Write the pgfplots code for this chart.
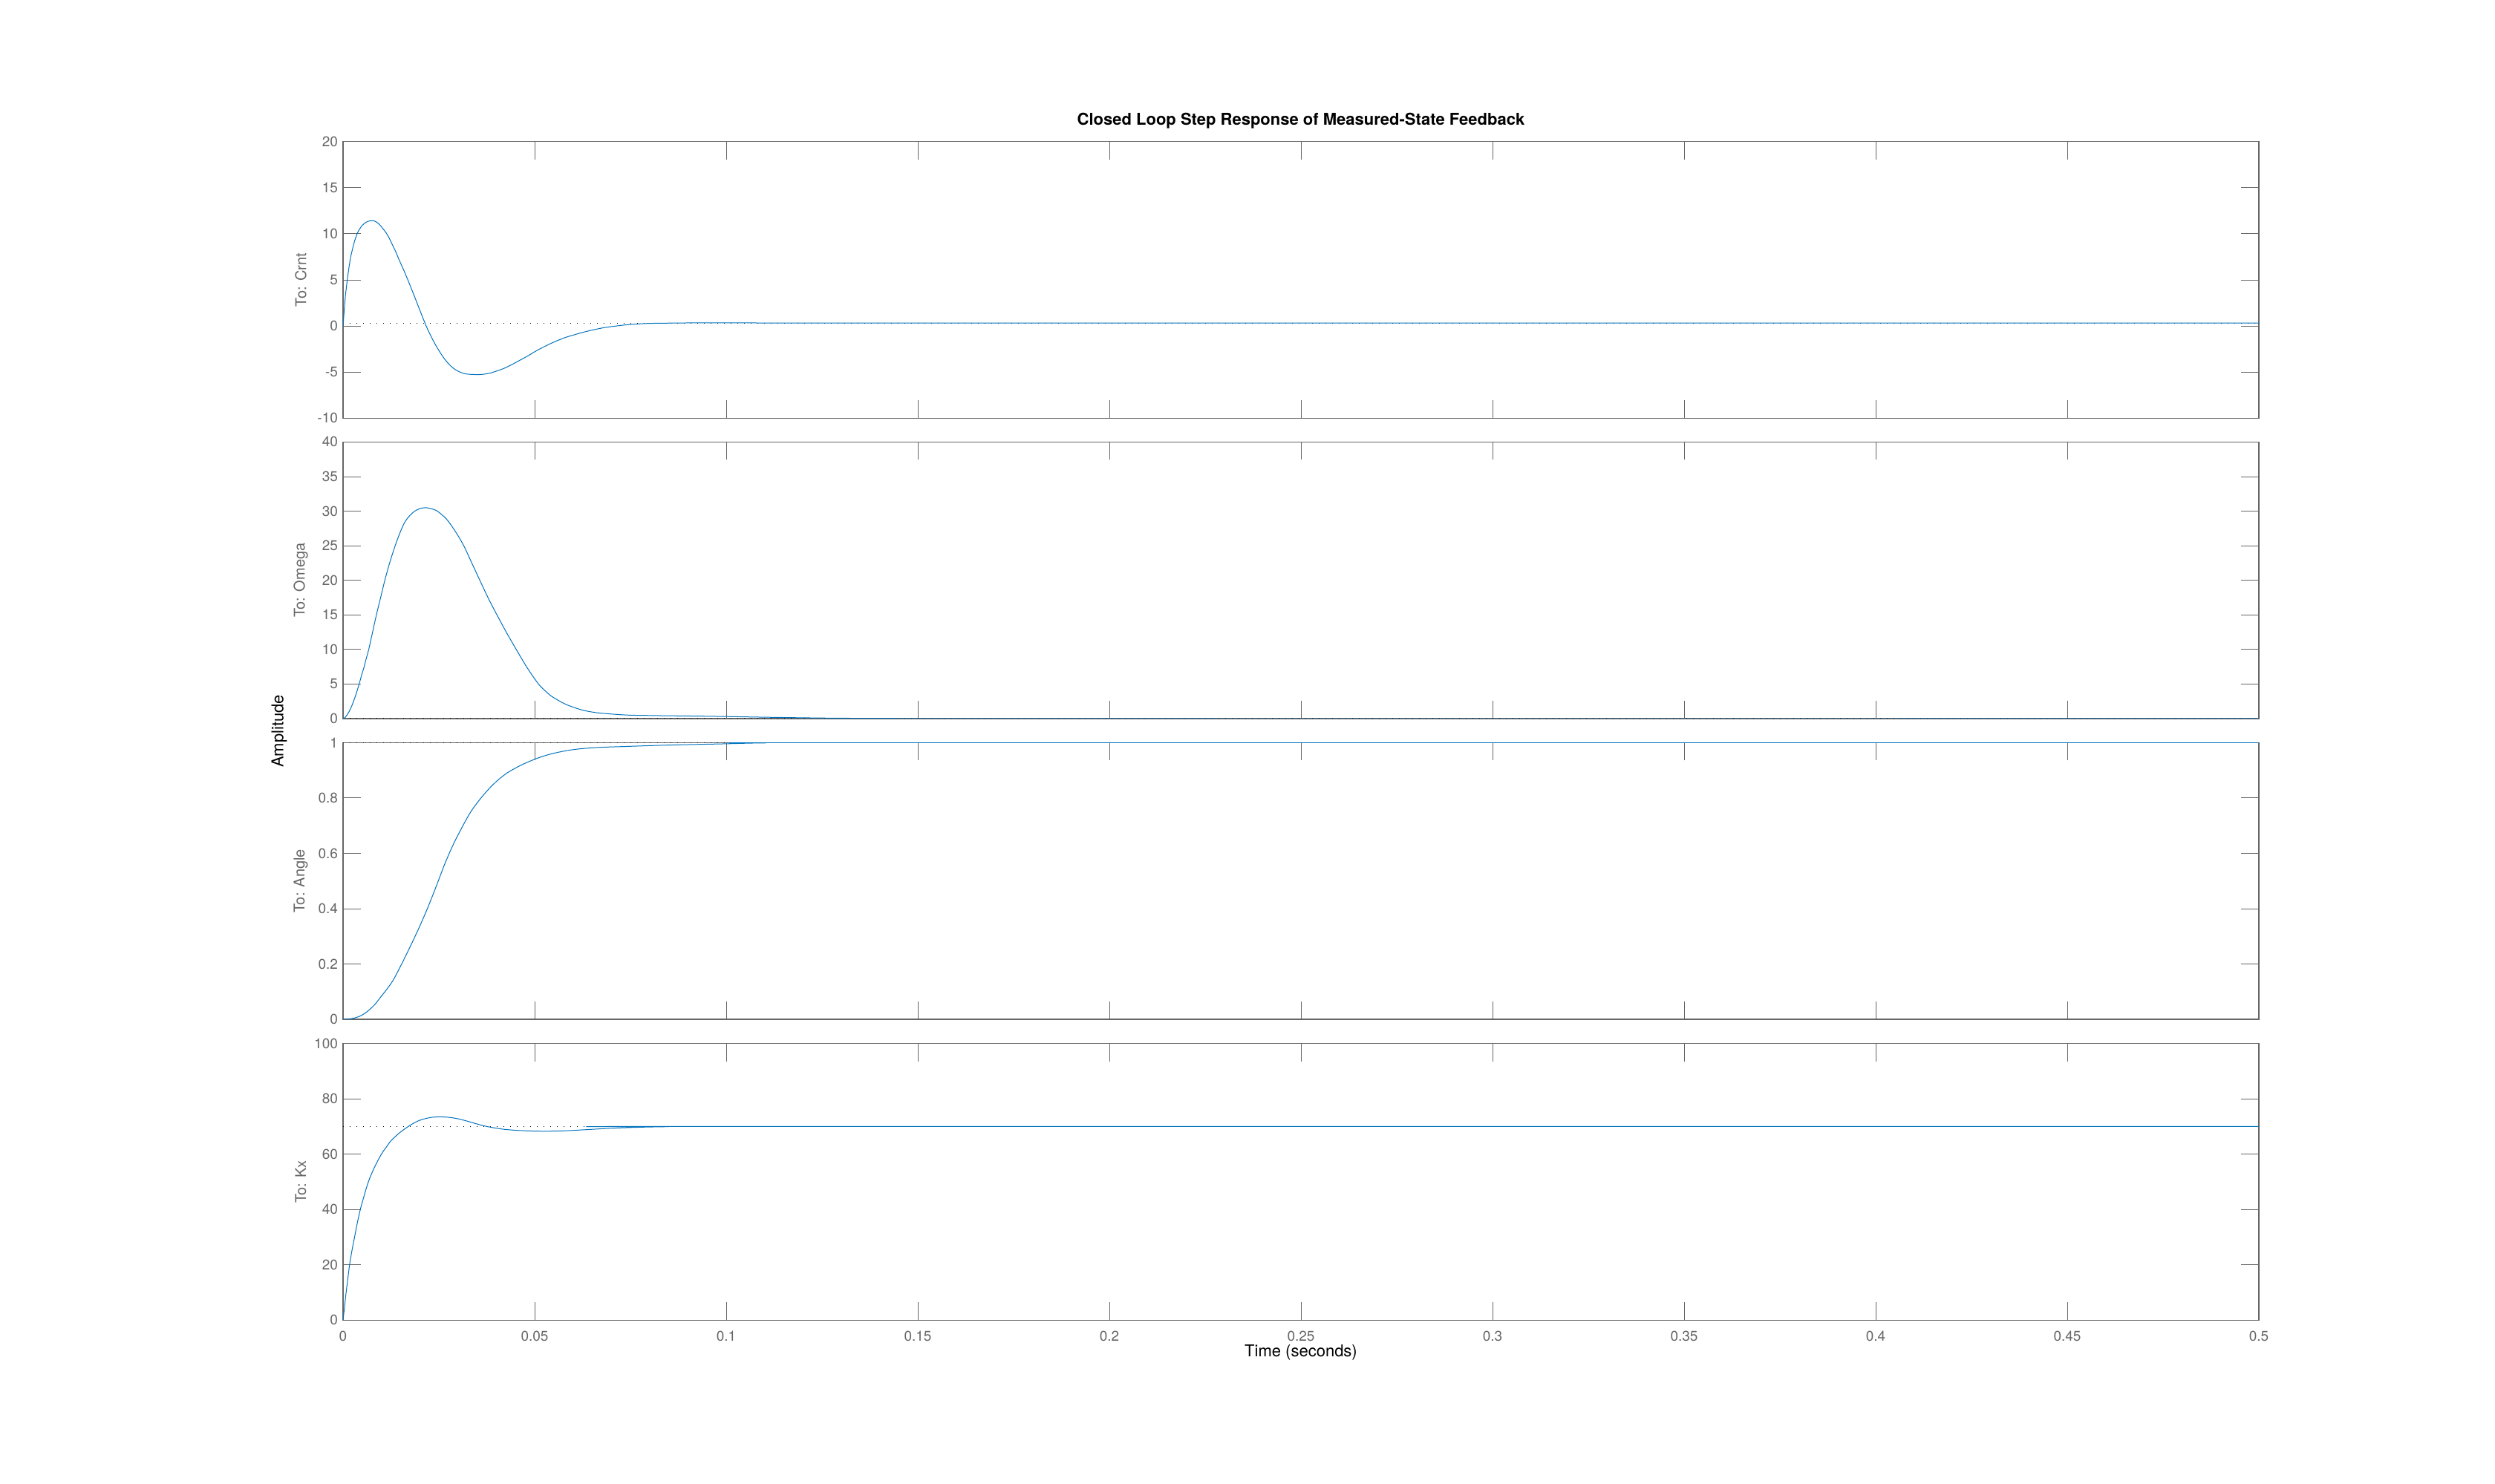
\documentclass[border=0pt]{standalone}
\usepackage{pgfplots}
\pgfplotsset{compat=1.18}
\usepackage{fontspec}
\setmainfont{TeX Gyre Heros}
\definecolor{axgray}{RGB}{102,102,102}
\definecolor{mblue}{RGB}{0,114,189}

\pgfplotsset{
  stepax/.style={
    scale only axis, width=1290pt, height=186.3pt,
    anchor=south west,
    xmin=0, xmax=0.5,
    xtick={0,0.05,0.1,0.15,0.2,0.25,0.3,0.35,0.4,0.45,0.5},
    xticklabels={},
    axis line style={axgray, line width=0.55pt},
    every tick/.style={axgray, line width=0.45pt},
    major tick length=12pt,
    tick align=inside, xtick pos=both, ytick pos=both,
    tick label style={font=\fontsize{9.5}{11}\selectfont, text=axgray},
    xticklabel style={yshift=-4pt},
    /pgf/number format/assume math mode=true,
    /pgf/number format/fixed,
    /pgf/number format/precision=2,
    ylabel style={font=\fontsize{10}{12}\selectfont, text=axgray,
      at={(axis description cs:-0.0221,0.5)}, anchor=center},
  },
  resp/.style={mblue, line width=0.5pt, smooth, tension=0.5},
  final/.style={black, line width=0.6pt, dash pattern=on 0.7pt off 3.8pt},
}

\begin{document}
\begin{tikzpicture}
\path[use as bounding box] (0,0) rectangle (1680pt,999pt);

% Crnt
\begin{axis}[stepax, at={(231pt,717.35pt)},
    ymin=-10, ymax=20, ytick={-10,-5,0,5,10,15,20},
    ylabel={To: Crnt}]
  \addplot[final] coordinates {(0,0.32) (0.5,0.32)};
  \addplot[resp] coordinates {
    (0,0) (0.0003,1.7) (0.0006,3.2) (0.0011,5) (0.0016,6.5) (0.002,7.5)
    (0.0025,8.4) (0.003,9.2) (0.0035,9.8) (0.004,10.3) (0.005,10.9)
    (0.006,11.25) (0.007,11.4) (0.0078,11.42) (0.0086,11.3) (0.0095,11.0)
    (0.0105,10.5) (0.0114,10) (0.0122,9.4) (0.013,8.7) (0.0138,8.0)
    (0.0145,7.3) (0.0153,6.55) (0.016,5.9) (0.0172,4.7) (0.0185,3.35)
    (0.02,1.75) (0.021,0.7) (0.0219,-0.2) (0.023,-1.15) (0.024,-1.95)
    (0.025,-2.65) (0.026,-3.3) (0.027,-3.85) (0.028,-4.3) (0.029,-4.65)
    (0.03,-4.9) (0.031,-5.08) (0.032,-5.2) (0.0338,-5.26) (0.0356,-5.27)
    (0.037,-5.22) (0.0385,-5.1) (0.04,-4.9) (0.042,-4.6) (0.044,-4.2)
    (0.046,-3.75) (0.048,-3.3) (0.05,-2.8) (0.052,-2.35) (0.055,-1.75)
    (0.058,-1.25) (0.06,-1.0) (0.0625,-0.7) (0.065,-0.45) (0.0675,-0.23)
    (0.07,-0.07) (0.0725,0.06) (0.075,0.16) (0.0775,0.23) (0.08,0.28)
    (0.085,0.31) (0.09,0.33) (0.1,0.33) (0.2,0.32) (0.5,0.32)};
\end{axis}

% Omega
\begin{axis}[stepax, at={(231pt,515pt)},
    ymin=0, ymax=40, ytick={0,5,10,15,20,25,30,35,40},
    ylabel={To: Omega}]
  \addplot[final] coordinates {(0,0) (0.5,0)};
  \addplot[resp] coordinates {
    (0,0) (0.0005,0.15) (0.001,0.5) (0.0015,0.95) (0.002,1.5)
    (0.0025,2.15) (0.003,2.9) (0.0036,3.9) (0.0042,5) (0.0048,6.2)
    (0.0055,7.5) (0.0061,8.8) (0.0067,10) (0.0077,12.5) (0.0087,15)
    (0.0098,17.5) (0.0109,20) (0.0122,22.6) (0.0136,25) (0.0148,26.8)
    (0.016,28.3) (0.0173,29.3) (0.0187,30) (0.0202,30.4) (0.0217,30.5)
    (0.023,30.35) (0.0245,30.04) (0.027,28.85) (0.0295,26.9) (0.0315,25)
    (0.0336,22.5) (0.0357,20) (0.038,17.3) (0.0404,14.75) (0.0428,12.3)
    (0.0452,10) (0.048,7.4) (0.051,5) (0.0528,4.0) (0.0545,3.2)
    (0.058,2.1) (0.062,1.3) (0.065,0.95) (0.068,0.75) (0.074,0.52)
    (0.08,0.45) (0.09,0.38) (0.1,0.3) (0.11,0.2) (0.12,0.12) (0.13,0.06)
    (0.15,0.02) (0.2,0) (0.5,0)};
\end{axis}

% Angle
\begin{axis}[stepax, at={(231pt,312.5pt)},
    ymin=0, ymax=1, ytick={0,0.2,0.4,0.6,0.8,1},
    ylabel={To: Angle}]
  \addplot[final] coordinates {(0,1) (0.5,1)};
  \addplot[resp] coordinates {
    (0,0) (0.002,0.002) (0.0031,0.005) (0.0048,0.014) (0.0065,0.03)
    (0.0082,0.052) (0.0098,0.08) (0.0115,0.11) (0.0131,0.142)
    (0.0153,0.2) (0.0176,0.265) (0.0198,0.33) (0.022,0.4) (0.0243,0.48)
    (0.0265,0.56) (0.0287,0.63) (0.0309,0.69) (0.0331,0.745)
    (0.0346,0.775) (0.036,0.8) (0.038,0.832) (0.0398,0.857)
    (0.0415,0.877) (0.0432,0.894) (0.0465,0.919) (0.05,0.94)
    (0.0527,0.953) (0.0554,0.963) (0.0587,0.972) (0.062,0.978)
    (0.067,0.983) (0.0732,0.986) (0.0843,0.991) (0.1,0.996) (0.11,0.999)
    (0.13,1) (0.5,1)};
\end{axis}

% Kx
\begin{axis}[stepax, at={(231pt,109.85pt)},
    ymin=0, ymax=100, ytick={0,20,40,60,80,100},
    xticklabels={0,0.05,0.1,0.15,0.2,0.25,0.3,0.35,0.4,0.45,0.5},
    ylabel={To: Kx}]
  \addplot[final] coordinates {(0,70) (0.5,70)};
  \addplot[resp] coordinates {
    (0,0) (0.0004,5) (0.0008,10) (0.0012,14.5) (0.0017,20) (0.0023,25)
    (0.003,30) (0.0037,35) (0.0045,40) (0.0055,45) (0.0066,50)
    (0.0081,55) (0.01,60) (0.0113,62.6) (0.0126,65) (0.0148,67.8)
    (0.017,70) (0.0188,71.5) (0.0205,72.5) (0.023,73.3) (0.0254,73.5)
    (0.0278,73.3) (0.03,72.8) (0.032,72.1) (0.034,71.3) (0.0358,70.6)
    (0.0376,70) (0.04,69.4) (0.042,69) (0.0445,68.7) (0.047,68.5)
    (0.05,68.35) (0.0532,68.3) (0.0566,68.4) (0.06,68.6) (0.0676,69.2)
    (0.073,69.55) (0.0788,69.8) (0.085,69.95) (0.09,70) (0.5,70)};
\end{axis}

\node[font=\bfseries\fontsize{11}{13}\selectfont] at (876pt,917.5pt)
  {Closed Loop Step Response of Measured-State Feedback};
\node[font=\fontsize{11}{13}\selectfont] at (876pt,88pt) {Time (seconds)};
\node[font=\fontsize{11}{13}\selectfont, rotate=90] at (188pt,506.5pt) {Amplitude};
\end{tikzpicture}
\end{document}
